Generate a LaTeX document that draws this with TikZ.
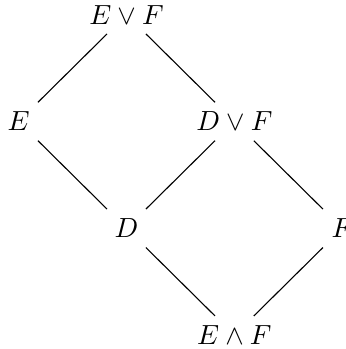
\documentclass[tikz,border=0pt]{standalone}
\usepackage{tikz}
\usetikzlibrary{positioning}

\begin{document}
\begin{tikzpicture}[
  x=39pt, y=38.6pt,
  elem/.style={inner sep=3.33pt},
  edge/.style={line width=0.4pt}
]
\useasboundingbox (-6.7pt,-5pt) rectangle (118.3pt,121.1pt);

% lattice elements
\node[elem] (join) at (1,3) {$E \vee F$};
\node[elem] (e)    at (0,2) {$E$};
\node[elem] (dvf)  at (2,2) {$D \vee F$};
\node[elem] (d)    at (1,1) {$D$};
\node[elem] (f)    at (3,1) {$F$};
\node[elem] (meet) at (2,0) {$E \wedge F$};

% order relations
\draw[edge] (join) -- (e);
\draw[edge] (join) -- (dvf);
\draw[edge] (e) -- (d);
\draw[edge] (dvf) -- (d);
\draw[edge] (dvf) -- (f);
\draw[edge] (d) -- (meet);
\draw[edge] (f) -- (meet);

\end{tikzpicture}
\end{document}
